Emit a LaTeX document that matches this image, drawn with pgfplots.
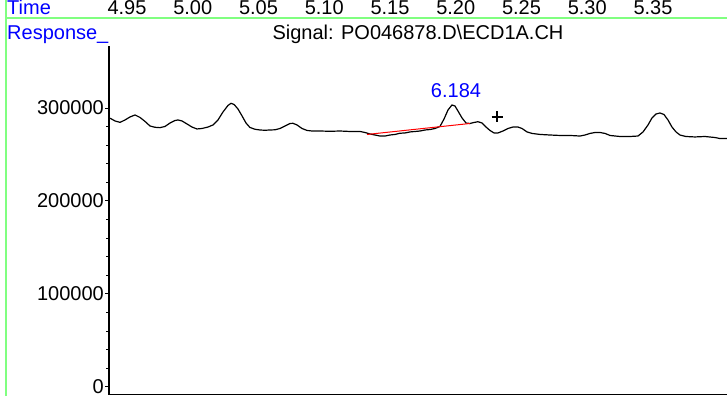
\documentclass[border=0pt]{standalone}
\usepackage{fontspec}
\setmainfont{Liberation Sans}
\usepackage{pgfplots}
\usepackage{pgfplotstable}
\pgfplotsset{compat=1.18}
\definecolor{framegreen}{RGB}{128,255,128}
\definecolor{lblblue}{RGB}{0,0,255}
\pgfplotstableread{
t y
4.9371 289000
4.9409 286000
4.9447 284500
4.9485 287100
4.9523 290300
4.9561 292500
4.9599 289800
4.9637 285500
4.9675 280600
4.9713 279200
4.9751 278800
4.9789 280100
4.9827 283800
4.9865 286500
4.9888 287100
4.9918 286000
4.9956 282800
4.9994 279500
5.0032 277400
5.0070 277900
5.0116 279500
5.0154 281700
5.0192 287100
5.0230 295700
5.0268 302700
5.0291 305000
5.0314 303800
5.0344 298900
5.0375 291400
5.0405 283800
5.0435 279000
5.0473 277100
5.0511 276300
5.0549 276000
5.0587 276300
5.0625 276500
5.0663 277900
5.0702 280600
5.0740 283300
5.0762 283500
5.0793 281700
5.0831 277900
5.0869 275800
5.0907 275200
5.0968 275200
5.1044 274900
5.1120 275200
5.1196 274700
5.1272 274700
5.1310 273600
5.1348 272000
5.1386 270900
5.1424 269800
5.1462 269800
5.1500 270900
5.1538 271500
5.1576 272800
5.1614 273100
5.1652 274200
5.1690 274700
5.1728 275200
5.1766 276300
5.1804 276800
5.1842 277900
5.1880 280100
5.1911 288200
5.1941 297800
5.1971 303200
5.1994 302100
5.2017 296700
5.2048 289200
5.2078 283800
5.2108 283300
5.2139 284400
5.2169 285200
5.2200 283800
5.2230 279500
5.2260 275800
5.2291 273100
5.2321 273100
5.2359 275200
5.2397 277900
5.2435 279500
5.2473 279500
5.2504 277900
5.2542 274200
5.2580 272600
5.2641 271500
5.2717 270900
5.2793 270400
5.2869 270400
5.2945 269800
5.2983 270900
5.3021 272600
5.3059 273600
5.3097 273600
5.3135 272600
5.3173 270400
5.3249 269300
5.3325 269300
5.3386 269800
5.3424 274200
5.3462 281700
5.3492 289200
5.3523 293500
5.3553 294600
5.3583 293000
5.3614 287100
5.3644 279500
5.3675 274200
5.3705 270900
5.3750 269300
5.3819 268800
5.3895 269300
5.3971 268200
5.4009 267100
5.4063 267100
}\signal
\begin{document}
\begin{tikzpicture}[font=\fontsize{20}{24}\selectfont]
\begin{axis}[
  scale only axis, width=618pt, height=348.5pt,
  at={(109pt,1.5pt)}, anchor=south west,
  xmin=4.93631, xmax=5.40627, ymin=-8400, ymax=366700,
  axis x line*=bottom, axis y line*=left,
  axis line style={line width=1.2pt,-},
  xtick=\empty,
  ytick={0,100000,200000,300000},
  minor y tick num=4,
  tick align=outside,
  major tick length=4pt, minor tick length=3pt,
  tick style={black, line width=0.8pt},
  scaled y ticks=false,
  yticklabel style={inner xsep=1pt, inner ysep=0pt, font=\fontsize{20}{24}\selectfont,
    /pgf/number format/fixed, /pgf/number format/1000 sep={}},
  /pgf/number format/assume math mode=true,
  clip=false,
]
\addplot[black, line width=1.2pt] table[x=t, y=y] {\signal};
\addplot[red, line width=1pt] coordinates {(5.1325,271500) (5.2108,283300)};
\addplot[black, only marks, mark=+, mark size=5.5pt, line width=1.3pt] coordinates {(5.2314,290300)};
\node[text=lblblue, inner sep=0pt] at (axis cs:5.2002,318300) {6.184};
\node[anchor=base, inner sep=0pt] at (axis cs:4.95,400100) {4.95};
\node[anchor=base, inner sep=0pt] at (axis cs:5.00,400100) {5.00};
\node[anchor=base, inner sep=0pt] at (axis cs:5.05,400100) {5.05};
\node[anchor=base, inner sep=0pt] at (axis cs:5.10,400100) {5.10};
\node[anchor=base, inner sep=0pt] at (axis cs:5.15,400100) {5.15};
\node[anchor=base, inner sep=0pt] at (axis cs:5.20,400100) {5.20};
\node[anchor=base, inner sep=0pt] at (axis cs:5.25,400100) {5.25};
\node[anchor=base, inner sep=0pt] at (axis cs:5.30,400100) {5.30};
\node[anchor=base, inner sep=0pt] at (axis cs:5.35,400100) {5.35};
\end{axis}
\draw[framegreen, line width=2pt] (6pt,0pt) -- (6pt,396pt);
\draw[framegreen, line width=2pt] (5pt,377.5pt) -- (727pt,377.5pt);
\node[anchor=base west, text=lblblue, inner sep=0pt] at (7pt,381pt) {Time};
\node[anchor=base west, text=lblblue, inner sep=0pt] at (7pt,356.5pt) {Response\_};
\node[anchor=base, inner sep=0pt] at (418pt,356.5pt) {Signal: PO046878.D\textbackslash ECD1A.CH};
\pgfresetboundingbox
\useasboundingbox (0pt,0pt) rectangle (727pt,396pt);
\end{tikzpicture}
\end{document}
